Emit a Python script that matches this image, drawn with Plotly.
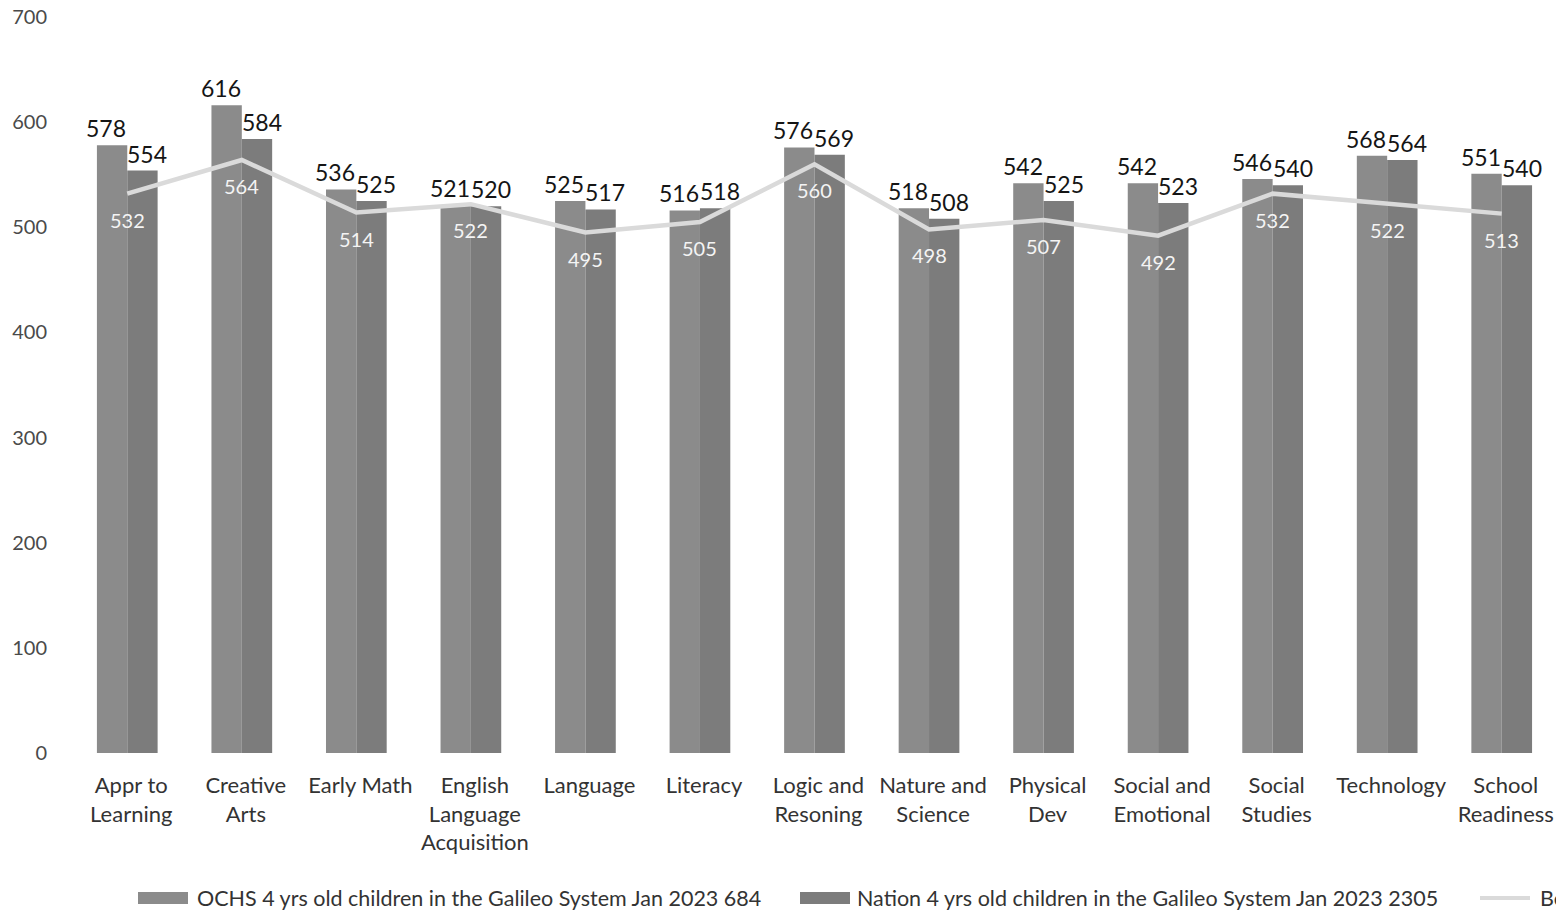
import plotly.graph_objects as go

categories = [
    "Appr to<br>Learning", "Creative<br>Arts", "Early Math", "English<br>Language<br>Acquisition",
    "Language", "Literacy", "Logic and<br>Resoning", "Nature and<br>Science", "Physical<br>Dev",
    "Social and<br>Emotional", "Social<br>Studies", "Technology", "School<br>Readiness",
]
ochs_scores = [578, 616, 536, 521, 525, 516, 576, 518, 542, 542, 546, 568, 551]
nation_scores = [554, 584, 525, 520, 517, 518, 569, 508, 525, 523, 540, 564, 540]
benchmark_scores = [532, 564, 514, 522, 495, 505, 560, 498, 507, 492, 532, 522, 513]

series_names = [
    "OCHS 4 yrs old children in the Galileo System Jan 2023 684",
    "Nation 4 yrs old children in the Galileo System Jan 2023 2305",
    "Benchmark",
]

FONT = "Lato"
W, H = 1556, 912
M_L, M_R, M_T, M_B = 70, 0, 17, 159
PLOT_W = W - M_L - M_R
PLOT_H = H - M_T - M_B

ochs_color = "#8b8b8b"
nation_color = "#7c7c7c"
line_color = "#dadada"


def px_x(px):
    return (px - M_L) / PLOT_W


def px_y(py):
    return (H - M_B - py) / PLOT_H


fig = go.Figure()
fig.add_trace(go.Bar(
    x=categories, y=ochs_scores, name=series_names[0],
    marker=dict(color=ochs_color, line=dict(width=0)), showlegend=False,
))
fig.add_trace(go.Bar(
    x=categories, y=nation_scores, name=series_names[1],
    marker=dict(color=nation_color, line=dict(width=0)), showlegend=False,
))
fig.add_trace(go.Scatter(
    x=categories, y=benchmark_scores, name=series_names[2],
    mode="lines", line=dict(color=line_color, width=4.5), showlegend=False,
))

annotations = []
# value labels above each bar, nudged apart so neighbouring labels stay readable
for cat, v in zip(categories, ochs_scores):
    annotations.append(dict(
        x=cat, y=v, xref="x", yref="y", text=str(v), showarrow=False,
        xanchor="center", yanchor="bottom", xshift=-21, yshift=1,
        font=dict(family=FONT, size=23, color="#151515"),
    ))
for cat, v in zip(categories, nation_scores):
    annotations.append(dict(
        x=cat, y=v, xref="x", yref="y", text=str(v), showarrow=False,
        xanchor="center", yanchor="bottom", xshift=20, yshift=1,
        font=dict(family=FONT, size=23, color="#151515"),
    ))
# benchmark labels under the line points
for cat, v in zip(categories, benchmark_scores):
    annotations.append(dict(
        x=cat, y=v, xref="x", yref="y", text=str(v), showarrow=False,
        xanchor="center", yanchor="top", xshift=0, yshift=-12,
        font=dict(family=FONT, size=20, color="#f4f4f4"),
    ))

# legend row along the bottom (the last entry runs off the right edge)
legend_y = 898
legend_items = [
    ("bar", ochs_color, 138, 195, series_names[0]),
    ("bar", nation_color, 800, 855, series_names[1]),
    ("line", line_color, 1480, 1538, series_names[2]),
]
shapes = []
for kind, color, sx, tx, label in legend_items:
    if kind == "bar":
        shapes.append(dict(
            type="rect", xref="paper", yref="paper",
            x0=px_x(sx), x1=px_x(sx + 50), y0=px_y(legend_y + 6), y1=px_y(legend_y - 6),
            fillcolor=color, line=dict(width=0),
        ))
    else:
        shapes.append(dict(
            type="line", xref="paper", yref="paper",
            x0=px_x(sx), x1=px_x(sx + 50), y0=px_y(legend_y), y1=px_y(legend_y),
            line=dict(color=color, width=4),
        ))
    annotations.append(dict(
        x=px_x(tx), y=px_y(legend_y), xref="paper", yref="paper", text=label,
        showarrow=False, xanchor="left", yanchor="middle",
        font=dict(family=FONT, size=21.5, color="#333333"),
    ))

fig.update_layout(
    width=W, height=H,
    margin=dict(l=M_L, r=M_R, t=M_T, b=M_B, autoexpand=False),
    paper_bgcolor="white", plot_bgcolor="white",
    barmode="group", bargap=0.47, bargroupgap=0,
    font=dict(family=FONT, color="#404040"),
    showlegend=False,
    annotations=annotations, shapes=shapes,
)
fig.update_xaxes(
    range=[-0.5, 12.474], showgrid=False, showline=False, zeroline=False,
    tickfont=dict(family=FONT, size=22, color="#333333"),
    ticklabelstandoff=17, ticklabelshift=4, automargin=False,
)
fig.update_yaxes(
    range=[0, 700], dtick=100, showgrid=False, showline=False, zeroline=False,
    tickfont=dict(family=FONT, size=20, color="#4a4a4a"),
    ticklabelstandoff=22, automargin=False,
)

fig.write_html("out.html")
